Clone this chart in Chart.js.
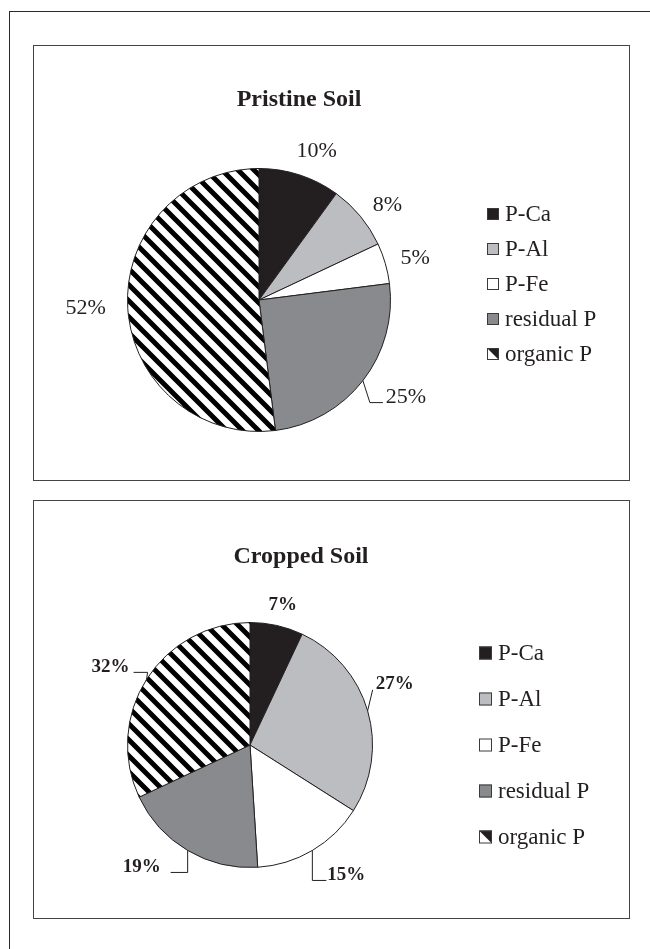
<!DOCTYPE html>
<html>
<head>
<meta charset="utf-8">
<script src="https://cdn.jsdelivr.net/npm/chart.js@4"></script>
<style>
  html, body { margin: 0; padding: 0; background: #fff; }
  body { width: 650px; height: 949px; position: relative; overflow: hidden; }
  .frame { position: absolute; left: 9px; top: 11px; width: 700px; height: 1000px; border: 1.5px solid #2a2a2a; }
  .box { position: absolute; left: 33px; width: 597px; border: 1.5px solid #444; box-sizing: border-box; }
  canvas { position: absolute; }
</style>
</head>
<body>
<div class="frame"></div>
<div class="box" style="top:45px;height:436px"></div>
<div class="box" style="top:500px;height:419px"></div>
<canvas id="pristine" width="598" height="435" style="left:33px;top:45px"></canvas>
<canvas id="cropped" width="598" height="418" style="left:33px;top:500px"></canvas>
<script>
// P fractions, %
let fractions = ["P-Ca", "P-Al", "P-Fe", "residual P", "organic P"];
let pristineValues = [10, 8, 5, 25, 52];
let croppedValues = [7, 27, 15, 19, 32];

let serif = "'Liberation Serif', 'DejaVu Serif', serif";

function stripes() {
    var c = document.createElement("canvas");
    c.width = 16; c.height = 16;
    var g = c.getContext("2d");
    g.fillStyle = "#fff";
    g.fillRect(0, 0, 16, 16);
    g.strokeStyle = "#000";
    g.lineWidth = 5;
    g.beginPath();
    for (var x0 = -16; x0 <= 16; x0 += 16) {
        g.moveTo(x0 - 2, -2);
        g.lineTo(x0 + 18, 18);
    }
    g.stroke();
    return document.createElement("canvas").getContext("2d").createPattern(c, "repeat");
}

let fills = ["#231f20", "#bcbdc0", "#ffffff", "#898a8d", stripes()];

// draws title, value labels with leaders, and legend
let soilPlugin = {
    id: "soil",
    afterDatasetsDraw(chart, args, o) {
        var ctx = chart.ctx;
        ctx.save();
        ctx.fillStyle = "#231f20";
        ctx.strokeStyle = "#231f20";
        ctx.lineWidth = 1;

        ctx.font = "bold 24px " + serif;
        ctx.textAlign = "center";
        ctx.textBaseline = "alphabetic";
        ctx.fillText(o.title, o.titleX, o.titleY);

        var meta = chart.getDatasetMeta(0);
        var values = chart.data.datasets[0].data;
        ctx.font = o.labelFont;
        ctx.textBaseline = "middle";
        meta.data.forEach((arc, i) => {
            var mid = (arc.startAngle + arc.endAngle) / 2;
            var ex = arc.x + arc.outerRadius * Math.cos(mid);
            var ey = arc.y + arc.outerRadius * Math.sin(mid);
            var off = o.offsets[i];
            ctx.fillText(values[i] + "%", ex + off[0], ey + off[1]);
            var lead = o.leaders[i];
            if (lead) {
                ctx.beginPath();
                ctx.moveTo(ex, ey);
                lead.forEach(p => ctx.lineTo(ex + p[0], ey + p[1]));
                ctx.stroke();
            }
        });

        var lg = o.legend;
        ctx.font = "23px " + serif;
        ctx.textAlign = "left";
        ctx.textBaseline = "alphabetic";
        chart.data.labels.forEach((name, i) => {
            var cy = lg.y + lg.step * i;
            var bx = lg.x, by = cy - lg.box / 2;
            ctx.fillStyle = i == 4 ? "#fff" : fills[i];
            ctx.fillRect(bx, by, lg.box, lg.box);
            if (i == 4) {
                ctx.fillStyle = "#231f20";
                ctx.beginPath();
                ctx.moveTo(bx, by);
                ctx.lineTo(bx + lg.box, by);
                ctx.lineTo(bx + lg.box, by + lg.box);
                ctx.closePath();
                ctx.fill();
            }
            ctx.strokeStyle = "#3a3a3a";
            ctx.strokeRect(bx + 0.5, by + 0.5, lg.box - 1, lg.box - 1);
            ctx.fillStyle = "#231f20";
            ctx.fillText(name, lg.textX, cy + 7);
        });
        ctx.restore();
    }
};

function pie(id, values, padding, soil) {
    return new Chart(document.getElementById(id), {
        type: "pie",
        data: {
            labels: fractions,
            datasets: [{
                data: values,
                backgroundColor: fills,
                borderColor: "#231f20",
                borderWidth: 1
            }]
        },
        options: {
            responsive: false,
            animation: false,
            events: [],
            devicePixelRatio: 1,
            layout: { padding: padding },
            plugins: {
                legend: { display: false },
                tooltip: { enabled: false },
                title: { display: false },
                soil: soil
            }
        },
        plugins: [soilPlugin]
    });
}

pie("pristine", pristineValues, { left: 94, top: 123, right: 240, bottom: 48 }, {
    title: "Pristine Soil", titleX: 266, titleY: 61,
    labelFont: "22px " + serif,
    offsets: [[17, -24], [27, -11], [30, -5], [43, 17], [-42, 0]],
    leaders: [null, null, null, [[7, 22], [20, 22]], null],
    legend: { x: 454, y: 169, step: 35, box: 12, textX: 472 }
});

pie("cropped", croppedValues, { left: 94, top: 122, right: 258, bottom: 50 }, {
    title: "Cropped Soil", titleX: 268, titleY: 63,
    labelFont: "bold 19px " + serif,
    offsets: [[6, -20], [27, -27], [34, 25], [-46, 17], [-36, -12]],
    leaders: [null, [[5, -21]], [[0, 30], [14, 30]], [[0, 22], [-17, 22]], [[1, -7], [-13, -7]]],
    legend: { x: 446, y: 153, step: 46, box: 13, textX: 465 }
});
</script>
</body>
</html>
